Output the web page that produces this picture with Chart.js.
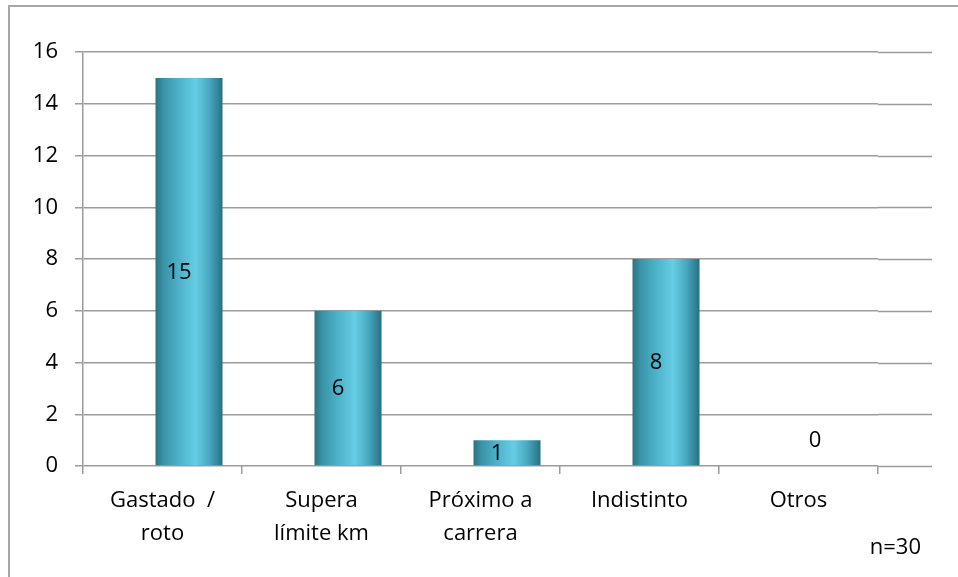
<!DOCTYPE html>
<html>
<head>
<meta charset="utf-8">
<script src="https://cdn.jsdelivr.net/npm/chart.js@4"></script>
<style>
  html, body { margin: 0; padding: 0; background: #fff; }
  #wrap { position: relative; width: 958px; height: 577px; overflow: hidden; }
  #frame { position: absolute; left: 8px; top: 5px; width: 1000px; height: 700px; border-top: 2px solid #a6a6a6; border-left: 2px solid #a6a6a6; box-sizing: border-box; }
  canvas { position: absolute; left: 0; top: 0; }
</style>
</head>
<body>
<div id="wrap">
  <div id="frame"></div>
  <canvas id="chart" width="958" height="577"></canvas>
</div>
<script>
"use strict";

// Data
const categories = [["Gastado  /", "roto"], ["Supera", "límite km"], ["Próximo a", "carrera"], ["Indistinto"], ["Otros"]];
const emptySeries = [null, null, null, null, null];
const counts = [15, 6, 1, 8, 0];
const yTicks = [0, 2, 4, 6, 8, 10, 12, 14, 16];
const sampleNote = "n=30";

const FONT = "'Open Sans', sans-serif";
const GRID = '#9c9c9c';
const CAT_PCT = 0.667;
const BAR_PCT = 1.264;

// cylinder-like shading for each bar
function barFill(ctx) {
    const chart = ctx.chart;
    const x = chart.scales.x;
    if (!x || !chart.chartArea) return '#4bb3cc';
    const catW = x.width / categories.length;
    const chunk = catW * CAT_PCT / 2;
    const w = chunk * BAR_PCT;
    const center = x.getPixelForValue(ctx.dataIndex) + catW * CAT_PCT / 4;
    const left = center - w / 2;
    const g = chart.ctx.createLinearGradient(left, 0, left + w, 0);
    g.addColorStop(0, '#2b7384');
    g.addColorStop(0.12, '#3a93a8');
    g.addColorStop(0.35, '#4db2c9');
    g.addColorStop(0.6, '#66cde4');
    g.addColorStop(0.8, '#48a9c0');
    g.addColorStop(1, '#2a6f80');
    return g;
}

// grid lines run a bit past the last category in the original
const extendGrid = {
    id: 'extendGrid',
    beforeDatasetsDraw(chart) {
        const y = chart.scales.y;
        const c = chart.ctx;
        c.save();
        c.strokeStyle = GRID;
        c.lineWidth = 1.5;
        y.ticks.forEach(t => {
            const py = Math.round(y.getPixelForValue(t.value)) + 0.5;
            c.beginPath();
            c.moveTo(chart.chartArea.right, py);
            c.lineTo(932, py);
            c.stroke();
        });
        c.restore();
    }
};

const valueLabels = {
    id: 'valueLabels',
    afterDatasetsDraw(chart) {
        const meta = chart.getDatasetMeta(1);
        const c = chart.ctx;
        c.save();
        c.font = '22px ' + FONT;
        c.fillStyle = '#000';
        c.textAlign = 'center';
        c.textBaseline = 'middle';
        meta.data.forEach((el, i) => {
            const v = counts[i];
            const ty = v > 0 ? (el.y + el.base) / 2 + 1 : el.base - 25;
            c.fillText(String(v), el.x - 10, ty);
        });
        c.textAlign = 'right';
        c.fillText(sampleNote, 921, 548);
        c.restore();
    }
};

const ctx = document.getElementById('chart').getContext('2d');
new Chart(ctx, {
    type: 'bar',
    data: {
        labels: categories,
        datasets: [
            { label: '', data: emptySeries, backgroundColor: 'rgba(0,0,0,0)' },
            {
                label: 'Motivo',
                data: counts,
                backgroundColor: barFill,
                borderWidth: 0
            }
        ]
    },
    options: {
        responsive: false,
        animation: false,
        devicePixelRatio: 1,
        categoryPercentage: CAT_PCT,
        barPercentage: BAR_PCT,
        layout: { padding: { left: 0, top: 52, right: 80, bottom: 0 } },
        plugins: {
            legend: { display: false },
            tooltip: { enabled: false }
        },
        scales: {
            x: {
                offset: true,
                grid: {
                    offset: true,
                    drawOnChartArea: false,
                    tickLength: 8,
                    tickColor: GRID,
                    lineWidth: 1.5
                },
                border: { display: false },
                ticks: {
                    color: '#000',
                    padding: 10,
                    maxRotation: 0,
                    autoSkip: false,
                    font: { family: FONT, size: 22, lineHeight: 1.5 }
                },
                afterFit: s => { s.height = 111; }
            },
            y: {
                min: 0,
                max: 16,
                afterBuildTicks: s => { s.ticks = yTicks.map(v => ({ value: v })); },
                grid: {
                    color: GRID,
                    lineWidth: 1.5,
                    tickLength: 8,
                    tickColor: GRID
                },
                border: { display: true, color: GRID, width: 1.5 },
                ticks: {
                    color: '#000',
                    padding: 17,
                    font: { family: FONT, size: 22 }
                },
                afterFit: s => { s.width = 83; }
            }
        }
    },
    plugins: [extendGrid, valueLabels]
});
</script>
</body>
</html>
